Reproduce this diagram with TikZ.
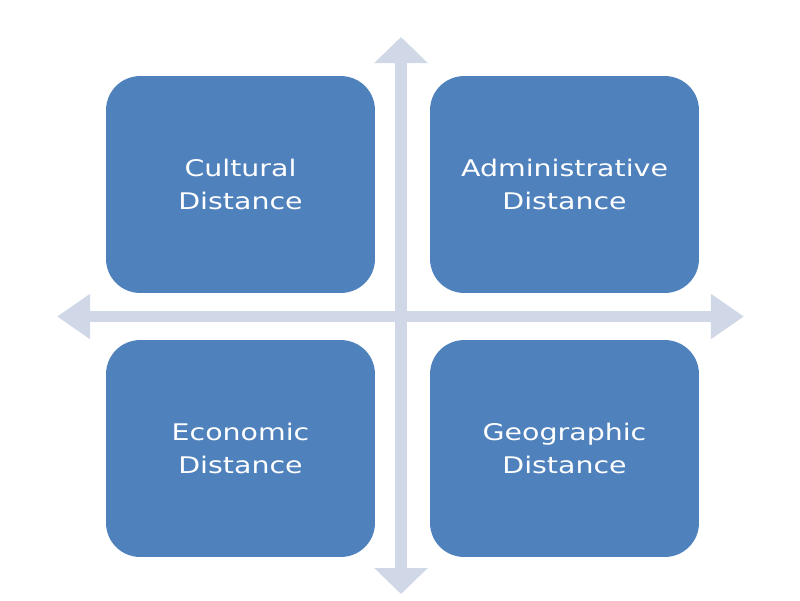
\documentclass[tikz,border=0pt]{standalone}
\usepackage{fontspec}
\setmainfont{DejaVu Sans}
\usetikzlibrary{arrows.meta}
\definecolor{boxblue}{HTML}{4F81BD}
\definecolor{axisgray}{HTML}{D0D8E8}

\begin{document}
\begin{tikzpicture}[x=0.025cm, y=-0.025cm,
    distbox/.style={fill=boxblue, rounded corners=0.85cm, xscale=1.24,
      minimum width=5.42cm, minimum height=5.42cm, text=white, align=center,
      font=\fontsize{16.3}{23.5}\selectfont},
    vaxis/.style={draw=axisgray, line width=8.5pt,
      {Triangle[length=18.5pt,width=37pt]}-{Triangle[length=18.5pt,width=37pt]}},
    haxis/.style={draw=axisgray, line width=7.8pt,
      {Triangle[length=23.5pt,width=30.6pt]}-{Triangle[length=23.5pt,width=30.6pt]}}]
    \useasboundingbox (0,0) rectangle (800,600);

    % Draw the axes
    \coordinate (top) at (401,37);
    \coordinate (bottom) at (401,594);
    \coordinate (left) at (57,316.5);
    \coordinate (right) at (744,316.5);
    \draw[vaxis] (bottom) -- (top);
    \draw[haxis] (left) -- (right);

    % Draw the four boxes
    \node[distbox] (cultural) at (240.5,184.5) {Cultural\\Distance};
    \node[distbox] (admin) at (564.5,184.5) {Administrative\\Distance};
    \node[distbox] (economic) at (240.5,448.5) {Economic\\Distance};
    \node[distbox] (geographic) at (564.5,448.5) {Geographic\\Distance};
\end{tikzpicture}
\end{document}
